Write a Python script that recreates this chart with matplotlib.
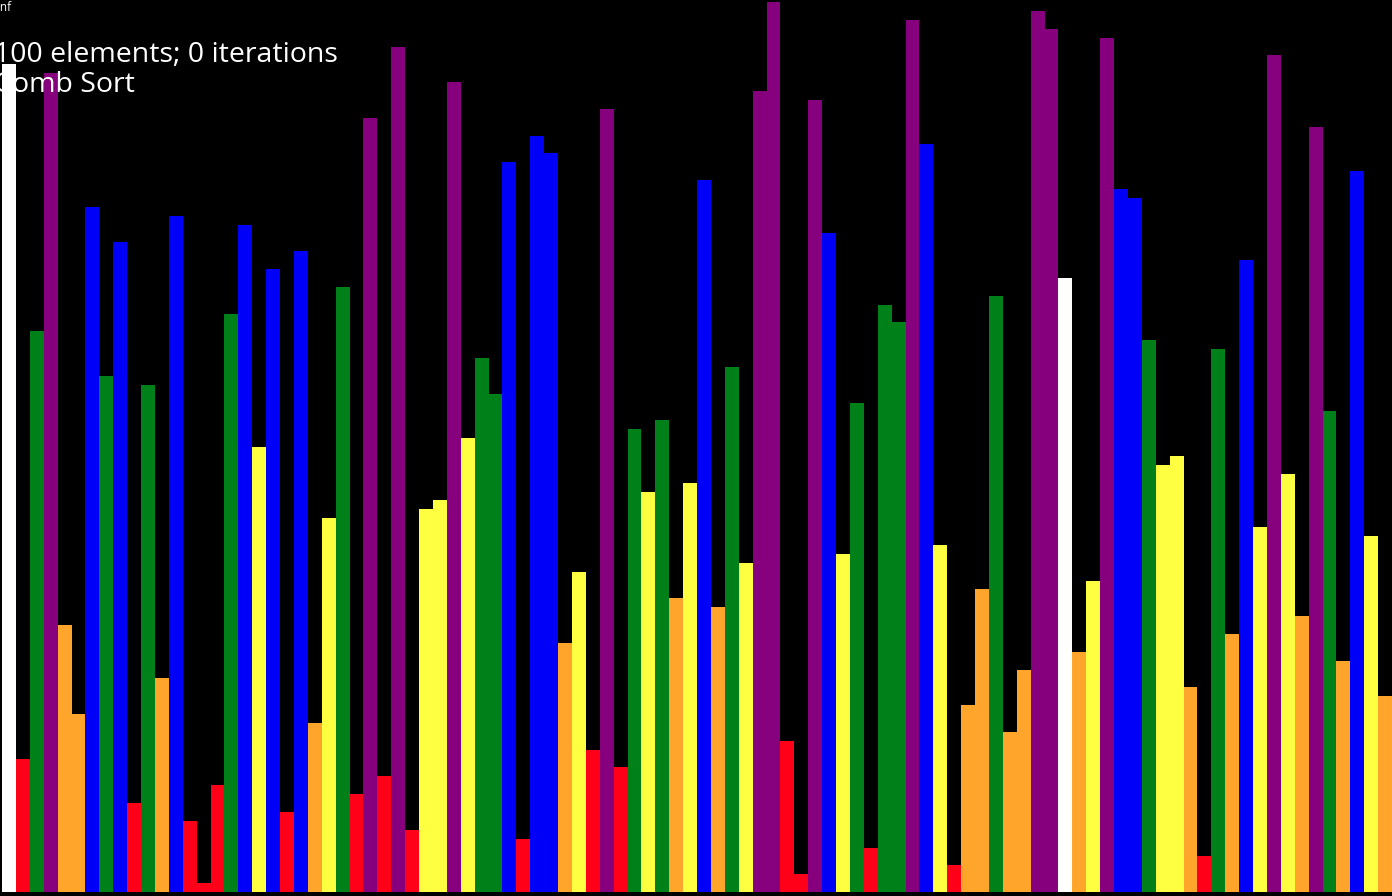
import matplotlib
matplotlib.use("Agg")
import matplotlib.pyplot as plt

# current array state (values 1..100), left to right
values = [93, 15, 63, 92, 30, 20, 77, 58, 73, 10,
          57, 24, 76, 8, 1, 12, 65, 75, 50, 70,
          9, 72, 19, 42, 68, 11, 87, 13, 95, 7,
          43, 44, 91, 51, 60, 56, 82, 6, 85, 83,
          28, 36, 16, 88, 14, 52, 45, 53, 33, 46,
          80, 32, 59, 37, 90, 100, 17, 2, 89, 74,
          38, 55, 5, 66, 64, 98, 84, 39, 3, 21,
          34, 67, 18, 25, 99, 97, 69, 27, 35, 96,
          79, 78, 62, 48, 49, 23, 4, 61, 29, 71,
          41, 94, 47, 31, 86, 54, 26, 81, 40, 22]
highlighted = [0, 76]
palette = ["#FF0018", "#FFA52C", "#FFFF41", "#008018", "#0000F9", "#86007D"]
n = len(values)
iterations = 0
algorithm = "Comb Sort"

colors = []
for i, v in enumerate(values):
    if i in highlighted:
        colors.append("white")
    else:
        colors.append(palette[min((v - 1) // 17, 5)])

fig = plt.figure(figsize=(13.92, 8.96), dpi=100, facecolor="black")
ax = fig.add_axes([0, 0, 1, 1])
ax.set_facecolor("black")
ax.bar(range(n), values, width=1.0, align="edge", color=colors, linewidth=0)
ax.set_xlim(-2 / 13.9, n)
ax.set_ylim(-4 / 8.9, 892 / 8.9)
ax.axis("off")

font = ["Open Sans", "DejaVu Sans"]
fig.text(-3 / 1392, 1 - 1 / 896, "inf", color="white", fontsize=8.5,
         family=font, va="top", ha="left")
fig.text(-6 / 1392, 1 - 62 / 896, f"{n} elements; {iterations} iterations",
         color="white", fontsize=20.5, family=font, va="baseline", ha="left")
fig.text(-6 / 1392, 1 - 92 / 896, algorithm,
         color="white", fontsize=20.5, family=font, va="baseline", ha="left")

fig.savefig("out.png", dpi=100, facecolor="black")
